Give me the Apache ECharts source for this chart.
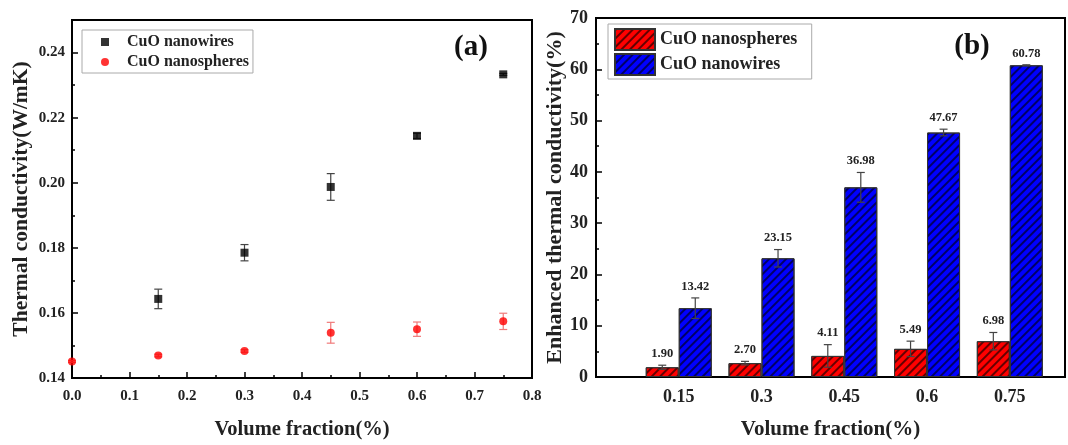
<!DOCTYPE html>
<html>
<head>
<meta charset="utf-8">
<script src="https://cdn.jsdelivr.net/npm/echarts@6/dist/echarts.min.js"></script>
<style>
html,body{margin:0;padding:0;background:#fff;}
#chart{width:1068px;height:445px;}
</style>
</head>
<body>
<div id="chart"></div>
<script>
// ---------- Panel (a) data ----------
const fracA = [0, 0.15, 0.3, 0.45, 0.6, 0.75];
const wiresK = [null, 0.1643, 0.1785, 0.1987, 0.2144, 0.2333];
const wiresKErr = [null, 0.0030, 0.0025, 0.0041, 0.0008, 0.0003];
const spheresK = [0.1451, 0.1469, 0.1483, 0.1539, 0.1550, 0.1574];
const spheresKErr = [0.0003, 0.0004, 0.0004, 0.0032, 0.0022, 0.0025];

// ---------- Panel (b) data ----------
const fracB = [0.15, 0.3, 0.45, 0.6, 0.75];
const fracBLabels = ['0.15', '0.3', '0.45', '0.6', '0.75'];
const spheresEnh = [1.90, 2.70, 4.11, 5.49, 6.98];
const spheresEnhErr = [0.4, 0.35, 2.2, 1.5, 1.7];
const wiresEnh = [13.42, 23.15, 36.98, 47.67, 60.78];
const wiresEnhErr = [2.0, 1.7, 2.9, 0.65, 0.1];

const nameWires = 'CuO nanowires';
const nameSpheres = 'CuO nanospheres';

const FONT = '"Liberation Serif", "Times New Roman", serif';

function pairs(xs, ys) { return xs.map((x, i) => [x, ys[i]]).filter(p => p[1] != null); }
function triples(xs, ys, es) { return xs.map((x, i) => [x, ys[i], es[i]]).filter(p => p[1] != null); }

function errRenderer(offset, color, withLabel) {
  return function (params, api) {
    const x = api.value(0), y = api.value(1), e = api.value(2);
    const top = api.coord([x, y + e]);
    const bot = api.coord([x, y - e]);
    const cx = top[0] + offset;
    const cap = 4;
    const st = { stroke: color, lineWidth: 1.2 };
    const children = [
      { type: 'line', shape: { x1: cx, y1: top[1], x2: cx, y2: bot[1] }, style: st },
      { type: 'line', shape: { x1: cx - cap, y1: top[1], x2: cx + cap, y2: top[1] }, style: st },
      { type: 'line', shape: { x1: cx - cap, y1: bot[1], x2: cx + cap, y2: bot[1] }, style: st }
    ];
    if (withLabel) {
      children.push({
        type: 'text', x: cx, y: top[1] - 5,
        style: { text: y.toFixed(2), font: 'bold 12.5px ' + FONT, fill: '#222', align: 'center', verticalAlign: 'bottom' }
      });
    }
    return { type: 'group', children };
  };
}

const hatch = {
  symbol: 'rect', symbolSize: 1,
  dashArrayX: [1, 0], dashArrayY: [1.2, 3.6],
  rotation: -Math.PI / 4,
  color: 'rgba(0,0,0,0.6)'
};

const axisLineS = { show: true, onZero: false, lineStyle: { color: '#000', width: 2 } };
const tickS = { show: true, inside: true, length: 6, lineStyle: { color: '#000', width: 1.5 } };
const minorS = { show: true, splitNumber: 2, length: 3, lineStyle: { color: '#000', width: 1.5 } };

const chart = echarts.init(document.getElementById('chart'), null, { renderer: 'canvas' });
chart.setOption({
  animation: false,
  backgroundColor: '#fff',
  textStyle: { fontFamily: FONT },
  grid: [
    { left: 72, right: 536, top: 20, bottom: 62, show: true, borderColor: '#000', borderWidth: 2, containLabel: false },
    { left: 596, right: 2, top: 18, bottom: 61, show: true, borderColor: '#000', borderWidth: 2, containLabel: false }
  ],
  xAxis: [
    {
      gridIndex: 0, type: 'value', min: 0, max: 0.8, interval: 0.1,
      axisLine: axisLineS, axisTick: tickS, minorTick: minorS, splitLine: { show: false },
      axisLabel: { margin: 11, color: '#222', fontFamily: FONT, fontWeight: 'bold', fontSize: 15, formatter: v => v.toFixed(1) },
      name: 'Volume fraction(%)', nameLocation: 'middle', nameGap: 41,
      nameTextStyle: { color: '#222', fontFamily: FONT, fontWeight: 'bold', fontSize: 20.5 }
    },
    {
      gridIndex: 1, type: 'value', min: 0, max: 0.85, interval: 0.15,
      axisLine: axisLineS, axisTick: { show: false }, splitLine: { show: false },
      axisLabel: {
        margin: 11, color: '#222', fontFamily: FONT, fontWeight: 'bold', fontSize: 18,
        formatter: v => { const i = fracB.findIndex(f => Math.abs(f - v) < 1e-6); return i >= 0 ? fracBLabels[i] : ''; }
      },
      name: 'Volume fraction(%)', nameLocation: 'middle', nameGap: 42,
      nameTextStyle: { color: '#222', fontFamily: FONT, fontWeight: 'bold', fontSize: 21 }
    }
  ],
  yAxis: [
    {
      gridIndex: 0, type: 'value', min: 0.14, max: 0.25, interval: 0.02,
      axisLine: axisLineS, axisTick: tickS, minorTick: minorS, splitLine: { show: false },
      axisLabel: { margin: 7, color: '#222', fontFamily: FONT, fontWeight: 'bold', fontSize: 15, showMaxLabel: false, formatter: v => v.toFixed(2) },
      name: 'Thermal conductivity(W/mK)', nameLocation: 'middle', nameGap: 40,
      nameTextStyle: { color: '#222', fontFamily: FONT, fontWeight: 'bold', fontSize: 21.5 }
    },
    {
      gridIndex: 1, type: 'value', min: 0, max: 70, interval: 10,
      axisLine: axisLineS, axisTick: tickS, minorTick: minorS, splitLine: { show: false },
      axisLabel: { margin: 8, color: '#222', fontFamily: FONT, fontWeight: 'bold', fontSize: 18 },
      name: 'Enhanced thermal conductivity(%)', nameLocation: 'middle', nameGap: 27,
      nameTextStyle: { color: '#222', fontFamily: FONT, fontWeight: 'bold', fontSize: 22 }
    }
  ],
  legend: [
    {
      data: [{ name: nameWires, icon: 'rect' }, { name: nameSpheres, icon: 'circle' }],
      orient: 'vertical', left: 82, top: 30,
      padding: [4, 4, 3, 19], itemGap: 4, itemWidth: 8, itemHeight: 8,
      borderColor: '#aaa', borderWidth: 1,
      textStyle: { color: '#222', fontFamily: FONT, fontWeight: 'bold', fontSize: 16, padding: [0, 0, 0, 13] }
    },
    {
      data: [{ name: nameSpheres + ' ', icon: 'rect' }, { name: nameWires + ' ', icon: 'rect' }],
      orient: 'vertical', left: 608, top: 24,
      padding: [4, 10, 3, 6], itemGap: 2, itemWidth: 40, itemHeight: 21,
      borderColor: '#aaa', borderWidth: 1,
      textStyle: { color: '#222', fontFamily: FONT, fontWeight: 'bold', fontSize: 18 }
    }
  ],
  graphic: [
    { type: 'text', x: 471, y: 48, style: { text: '(a)', font: 'bold 29px ' + FONT, fill: '#111', align: 'center', verticalAlign: 'middle' } },
    { type: 'text', x: 972, y: 47, style: { text: '(b)', font: 'bold 29px ' + FONT, fill: '#111', align: 'center', verticalAlign: 'middle' } }
  ],
  series: [
    { type: 'custom', name: 'errW', xAxisIndex: 0, yAxisIndex: 0, z: 1, silent: true,
      data: triples(fracA, wiresK, wiresKErr), renderItem: errRenderer(0, '#444', false) },
    { type: 'custom', name: 'errS', xAxisIndex: 0, yAxisIndex: 0, z: 1, silent: true,
      data: triples(fracA, spheresK, spheresKErr), renderItem: errRenderer(0, '#f07a7a', false) },
    { type: 'scatter', name: nameWires, xAxisIndex: 0, yAxisIndex: 0, z: 3, symbol: 'rect', symbolSize: 8,
      itemStyle: { color: '#000' }, data: pairs(fracA, wiresK) },
    { type: 'scatter', name: nameSpheres, xAxisIndex: 0, yAxisIndex: 0, z: 3, symbol: 'circle', symbolSize: 8,
      itemStyle: { color: '#ff0000' }, data: pairs(fracA, spheresK), clip: false },
    { type: 'bar', name: nameSpheres + ' ', xAxisIndex: 1, yAxisIndex: 1, barWidth: 33, barGap: '0%',
      itemStyle: { color: '#ff0000', borderColor: '#333', borderWidth: 1, decal: hatch },
      data: pairs(fracB, spheresEnh) },
    { type: 'bar', name: nameWires + ' ', xAxisIndex: 1, yAxisIndex: 1, barWidth: 33, barGap: '0%',
      itemStyle: { color: '#0000ff', borderColor: '#333', borderWidth: 1, decal: hatch },
      data: pairs(fracB, wiresEnh) },
    { type: 'custom', name: 'errBS', xAxisIndex: 1, yAxisIndex: 1, z: 5, silent: true,
      data: triples(fracB, spheresEnh, spheresEnhErr), renderItem: errRenderer(-16.5, '#444', true) },
    { type: 'custom', name: 'errBW', xAxisIndex: 1, yAxisIndex: 1, z: 5, silent: true,
      data: triples(fracB, wiresEnh, wiresEnhErr), renderItem: errRenderer(16.5, '#444', true) }
  ]
});
</script>
</body>
</html>
